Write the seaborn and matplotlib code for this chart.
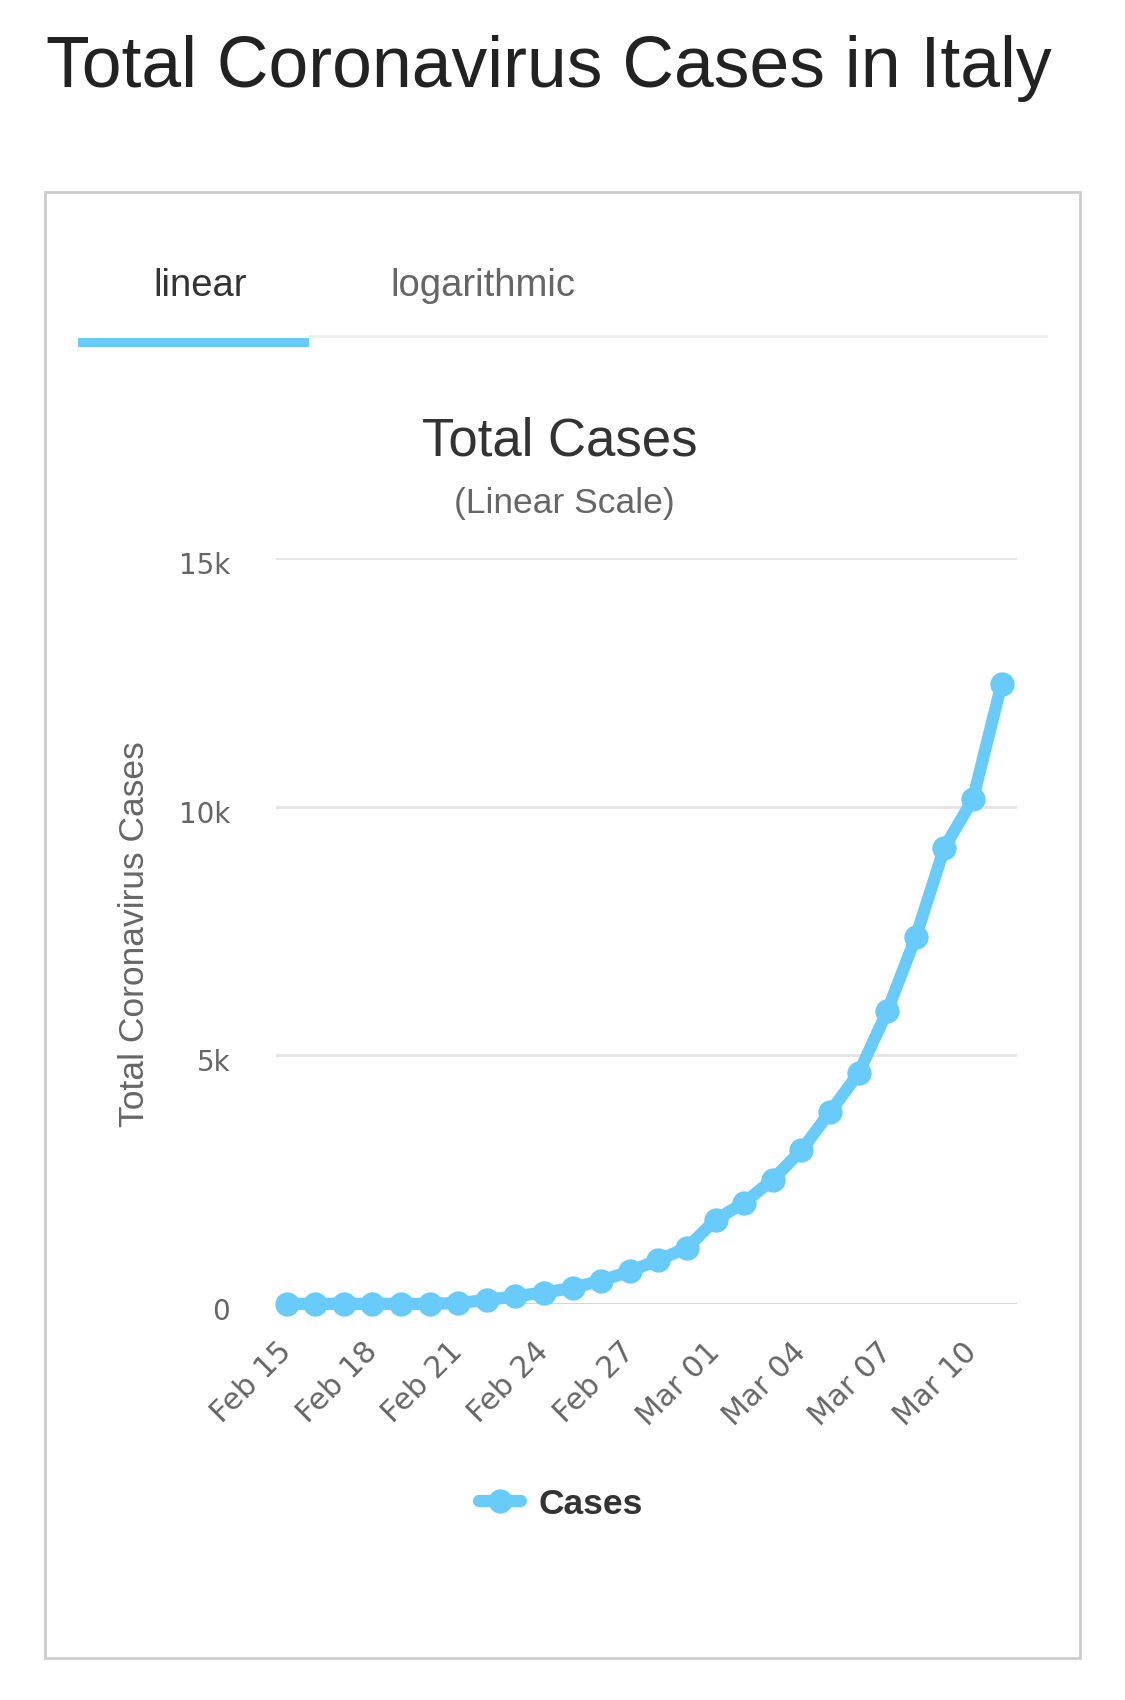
import matplotlib
import matplotlib.pyplot as plt
import matplotlib.transforms as mtransforms
import pandas as pd
import seaborn as sns
from matplotlib.patches import Rectangle

matplotlib.use("Agg")

dates = pd.date_range("2020-02-15", "2020-03-11", freq="D")
cases = [3, 3, 3, 3, 3, 3, 20, 79, 157, 229, 323, 470, 655, 889, 1128,
         1694, 2036, 2502, 3089, 3858, 4636, 5883, 7375, 9172, 10149, 12462]
tick_labels = ["Feb 15", "Feb 18", "Feb 21", "Feb 24", "Feb 27",
               "Mar 01", "Mar 04", "Mar 07", "Mar 10"]
y_ticks = [0, 5000, 10000, 15000]
y_tick_labels = ["0", "5k", "10k", "15k"]

LINE_COLOR = "#68cbfa"
W, H = 1125, 1700


def fx(px):
    return px / W


def fy(py):
    return 1 - py / H


sns.set_theme(style="white")
plt.rcParams["font.family"] = ["Liberation Sans", "DejaVu Sans"]

fig = plt.figure(figsize=(W / 100, H / 100), dpi=100)
fig.patch.set_facecolor("white")

# page title
fig.text(fx(46), fy(87), "Total Coronavirus Cases in Italy", fontsize=51.5,
         color="#222222", ha="left", va="baseline")

# card border
fig.patches.append(Rectangle((fx(45), fy(1658)), fx(1080) - fx(45), fy(192) - fy(1658),
                             transform=fig.transFigure, facecolor="none",
                             edgecolor="#cccccc", linewidth=2))

# tabs
fig.text(fx(200), fy(296), "linear", fontsize=27.5, color="#333333",
         ha="center", va="baseline")
fig.text(fx(483), fy(296), "logarithmic", fontsize=27.5, color="#666666",
         ha="center", va="baseline")
fig.patches.append(Rectangle((fx(309), fy(338)), fx(1048) - fx(309), fy(335) - fy(338),
                             transform=fig.transFigure, facecolor="#eeeeee",
                             edgecolor="none"))
fig.patches.append(Rectangle((fx(78), fy(347)), fx(309) - fx(78), fy(338) - fy(347),
                             transform=fig.transFigure, facecolor=LINE_COLOR,
                             edgecolor="none"))

# chart titles
fig.text(fx(560), fy(455), "Total Cases", fontsize=38, color="#333333",
         ha="center", va="baseline")
fig.text(fx(564), fy(513), "(Linear Scale)", fontsize=25.5, color="#666666",
         ha="center", va="baseline")

ax = fig.add_axes([fx(276), fy(1304), fx(1017) - fx(276), fy(558) - fy(1304)])

for v in y_ticks:
    ax.axhline(v, color="#ccd6eb" if v == 0 else "#e6e6e6",
               linewidth=2.2, zorder=0)

sns.lineplot(x=dates, y=cases, ax=ax, color=LINE_COLOR, linewidth=8.8,
             marker="o", markersize=17.5, markeredgewidth=0, label="Cases",
             clip_on=False, zorder=3)

ax.set_ylim(0, 15000)
ax.set_xlim(dates[0] - pd.Timedelta(hours=9), dates[-1] + pd.Timedelta(hours=13))
for s in ax.spines.values():
    s.set_visible(False)
ax.grid(False)

ax.set_yticks(y_ticks)
ax.set_yticklabels(y_tick_labels, family="DejaVu Sans", fontsize=20, color="#666666",
                   va="center_baseline")
ax.tick_params(axis="y", length=0, pad=33)
shift = mtransforms.ScaledTranslation(0, -0.05, fig.dpi_scale_trans)
for lbl in ax.get_yticklabels():
    lbl.set_transform(lbl.get_transform() + shift)

ax.set_xticks(dates[::3])
ax.set_xticklabels(tick_labels, family="DejaVu Sans", fontsize=21.5, color="#666666",
                   rotation=45, ha="right", va="center", rotation_mode="anchor")
ax.tick_params(axis="x", length=0, pad=31)
ax.set_xlabel("")
ax.set_ylabel("")

fig.text(fx(135), fy(934), "Total Coronavirus Cases", rotation=90, fontsize=25.5,
         color="#666666", ha="center", va="center")

handles, labels = ax.get_legend_handles_labels()
if ax.get_legend() is not None:
    ax.get_legend().remove()
leg = fig.legend(handles, labels, loc="center", bbox_to_anchor=(fx(561), fy(1504)),
                 frameon=False, handlelength=1.2, handletextpad=0.5,
                 prop={"weight": "bold", "size": 25.5})
for t in leg.get_texts():
    t.set_color("#333333")

fig.savefig("out.png", dpi=100, facecolor="white")
